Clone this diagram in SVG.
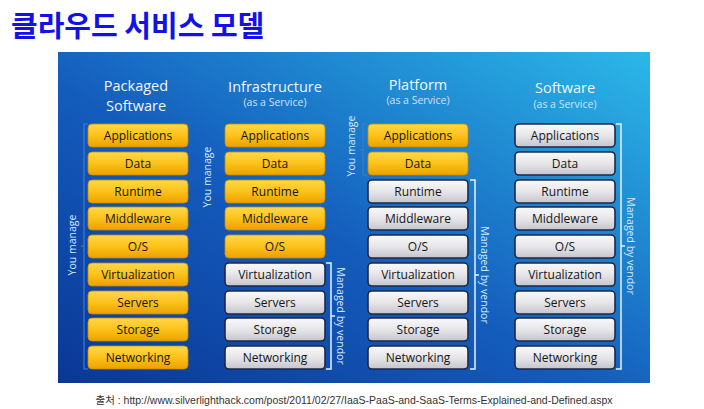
<svg xmlns="http://www.w3.org/2000/svg" width="704" height="409" viewBox="0 0 704 409">
<defs>
<linearGradient id="bg" x1="0" y1="1" x2="1" y2="0">
<stop offset="0" stop-color="#0a3796"/>
<stop offset="0.45" stop-color="#145cbc"/>
<stop offset="1" stop-color="#2cb8e8"/>
</linearGradient>
<linearGradient id="yel" x1="0" y1="0" x2="0" y2="1">
<stop offset="0" stop-color="#ffd84a"/>
<stop offset="0.5" stop-color="#fcc21a"/>
<stop offset="1" stop-color="#eca000"/>
</linearGradient>
<linearGradient id="gry" x1="0" y1="0" x2="0" y2="1">
<stop offset="0" stop-color="#fafafa"/>
<stop offset="0.5" stop-color="#e6e6ea"/>
<stop offset="1" stop-color="#c4c4cc"/>
</linearGradient>
<style>
.y{fill:url(#yel);stroke:#c98a00;stroke-width:0.8}
.g{fill:url(#gry);stroke:#1c2848;stroke-width:1.6}
.bt{font-family:"Open Sans","Noto Sans",sans-serif;font-size:12px;fill:#151515;text-anchor:middle}
.h1{font-family:"Open Sans","Noto Sans",sans-serif;font-size:14.5px;fill:#f2f6ff;text-anchor:middle}
.h2{font-family:"Open Sans","Noto Sans",sans-serif;font-size:10.5px;fill:#cfe2ff;text-anchor:middle}
.lb{font-family:"Open Sans","Noto Sans",sans-serif;font-size:10.5px;fill:#d6eaff;text-anchor:middle}
.br{fill:none;stroke:#e4f2ff;stroke-width:1.5}
.bf{fill:none;stroke:#3f7cd0;stroke-width:1.2}
</style>
</defs>
<rect width="704" height="409" fill="#ffffff"/>
<text x="11" y="37" font-family="'Noto Sans CJK KR',sans-serif" font-weight="bold" font-size="29" fill="#1212e6">클라우드 서비스 모델</text>
<rect x="58" y="52" width="592" height="331" fill="url(#bg)"/>

<g id="headers">
<text class="h1" x="136" y="91">Packaged</text>
<text class="h1" x="136" y="111">Software</text>
<text class="h1" x="275" y="92">Infrastructure</text>
<text class="h2" x="275" y="106">(as a Service)</text>
<text class="h1" x="418" y="90">Platform</text>
<text class="h2" x="418" y="104">(as a Service)</text>
<text class="h1" x="565" y="93">Software</text>
<text class="h2" x="565" y="108">(as a Service)</text>
</g>

<g id="col-packaged">
<rect class="y" x="88" y="124" width="100" height="23" rx="4"/><text class="bt" x="138" y="140">Applications</text>
<rect class="y" x="88" y="152" width="100" height="23" rx="4"/><text class="bt" x="138" y="168">Data</text>
<rect class="y" x="88" y="180" width="100" height="23" rx="4"/><text class="bt" x="138" y="196">Runtime</text>
<rect class="y" x="88" y="207" width="100" height="23" rx="4"/><text class="bt" x="138" y="223">Middleware</text>
<rect class="y" x="88" y="235" width="100" height="23" rx="4"/><text class="bt" x="138" y="251">O/S</text>
<rect class="y" x="88" y="263" width="100" height="23" rx="4"/><text class="bt" x="138" y="279">Virtualization</text>
<rect class="y" x="88" y="291" width="100" height="23" rx="4"/><text class="bt" x="138" y="307">Servers</text>
<rect class="y" x="88" y="318" width="100" height="23" rx="4"/><text class="bt" x="138" y="334">Storage</text>
<rect class="y" x="88" y="346" width="100" height="23" rx="4"/><text class="bt" x="138" y="362">Networking</text>
</g>

<g id="col-iaas">
<rect class="y" x="225" y="124" width="100" height="23" rx="4"/><text class="bt" x="275" y="140">Applications</text>
<rect class="y" x="225" y="152" width="100" height="23" rx="4"/><text class="bt" x="275" y="168">Data</text>
<rect class="y" x="225" y="180" width="100" height="23" rx="4"/><text class="bt" x="275" y="196">Runtime</text>
<rect class="y" x="225" y="207" width="100" height="23" rx="4"/><text class="bt" x="275" y="223">Middleware</text>
<rect class="y" x="225" y="235" width="100" height="23" rx="4"/><text class="bt" x="275" y="251">O/S</text>
<rect class="g" x="225" y="263" width="100" height="23" rx="4"/><text class="bt" x="275" y="279">Virtualization</text>
<rect class="g" x="225" y="291" width="100" height="23" rx="4"/><text class="bt" x="275" y="307">Servers</text>
<rect class="g" x="225" y="318" width="100" height="23" rx="4"/><text class="bt" x="275" y="334">Storage</text>
<rect class="g" x="225" y="346" width="100" height="23" rx="4"/><text class="bt" x="275" y="362">Networking</text>
</g>

<g id="col-paas">
<rect class="y" x="368" y="124" width="100" height="23" rx="4"/><text class="bt" x="418" y="140">Applications</text>
<rect class="y" x="368" y="152" width="100" height="23" rx="4"/><text class="bt" x="418" y="168">Data</text>
<rect class="g" x="368" y="180" width="100" height="23" rx="4"/><text class="bt" x="418" y="196">Runtime</text>
<rect class="g" x="368" y="207" width="100" height="23" rx="4"/><text class="bt" x="418" y="223">Middleware</text>
<rect class="g" x="368" y="235" width="100" height="23" rx="4"/><text class="bt" x="418" y="251">O/S</text>
<rect class="g" x="368" y="263" width="100" height="23" rx="4"/><text class="bt" x="418" y="279">Virtualization</text>
<rect class="g" x="368" y="291" width="100" height="23" rx="4"/><text class="bt" x="418" y="307">Servers</text>
<rect class="g" x="368" y="318" width="100" height="23" rx="4"/><text class="bt" x="418" y="334">Storage</text>
<rect class="g" x="368" y="346" width="100" height="23" rx="4"/><text class="bt" x="418" y="362">Networking</text>
</g>

<g id="col-saas">
<rect class="g" x="515" y="124" width="100" height="23" rx="4"/><text class="bt" x="565" y="140">Applications</text>
<rect class="g" x="515" y="152" width="100" height="23" rx="4"/><text class="bt" x="565" y="168">Data</text>
<rect class="g" x="515" y="180" width="100" height="23" rx="4"/><text class="bt" x="565" y="196">Runtime</text>
<rect class="g" x="515" y="207" width="100" height="23" rx="4"/><text class="bt" x="565" y="223">Middleware</text>
<rect class="g" x="515" y="235" width="100" height="23" rx="4"/><text class="bt" x="565" y="251">O/S</text>
<rect class="g" x="515" y="263" width="100" height="23" rx="4"/><text class="bt" x="565" y="279">Virtualization</text>
<rect class="g" x="515" y="291" width="100" height="23" rx="4"/><text class="bt" x="565" y="307">Servers</text>
<rect class="g" x="515" y="318" width="100" height="23" rx="4"/><text class="bt" x="565" y="334">Storage</text>
<rect class="g" x="515" y="346" width="100" height="23" rx="4"/><text class="bt" x="565" y="362">Networking</text>
</g>

<g id="brackets">
<path class="bf" d="M88,124 H84 V369 H88 M84,246 H81"/>
<text class="lb" transform="translate(76,245) rotate(-90)">You manage</text>
<text class="lb" transform="translate(211,177) rotate(-90)">You manage</text>
<path class="bf" d="M367,124 H363 V175 H367 M363,150 H360" stroke="#6aaaf0"/>
<text class="lb" transform="translate(355,146) rotate(-90)">You manage</text>
<path class="br" d="M326,263 H331 V369 H326 M331,316 H335"/>
<text class="lb" transform="translate(337,316) rotate(90)">Managed by vendor</text>
<path class="br" d="M470,180 H475 V369 H470 M475,275 H479"/>
<text class="lb" transform="translate(481,275) rotate(90)">Managed by vendor</text>
<path class="br" d="M616,124 H621 V369 H616 M621,246 H625"/>
<text class="lb" transform="translate(627,246) rotate(90)">Managed by vendor</text>
</g>

<text x="354" y="404" text-anchor="middle" font-family="'Liberation Sans','Noto Sans CJK KR',sans-serif" font-size="10.5" fill="#333333">출처 : http://www.silverlighthack.com/post/2011/02/27/IaaS-PaaS-and-SaaS-Terms-Explained-and-Defined.aspx</text>
</svg>
